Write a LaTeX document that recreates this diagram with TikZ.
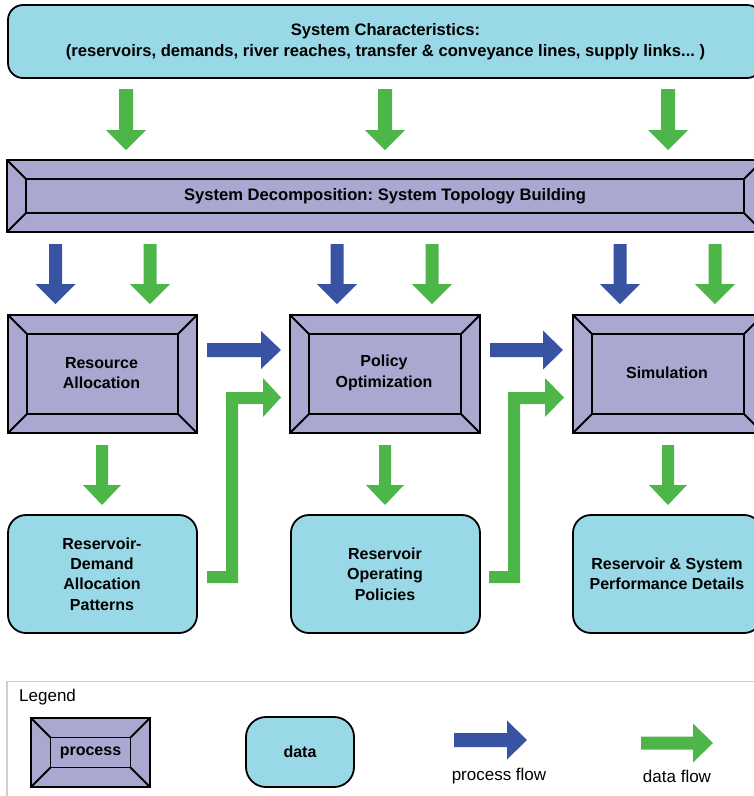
\documentclass[tikz,border=0pt]{standalone}
\usepackage{fontspec}
\setmainfont{Liberation Sans}
\frenchspacing
\definecolor{procfill}{HTML}{AAA8D0}
\definecolor{datafill}{HTML}{99D8E6}
\definecolor{flowgreen}{HTML}{4CB748}
\definecolor{flowblue}{HTML}{3852A4}
\definecolor{legendgray}{HTML}{CFCFCF}
\tikzset{
  outline/.style={draw=black, line width=1.8pt},
  procshape/.style={outline, fill=procfill},
  datashape/.style={outline, fill=datafill, rounded corners=18pt},
  txt/.style={font=\fontsize{16}{20.3}\selectfont\bfseries, align=center, inner sep=0pt},
  bigtxt/.style={txt, font=\fontsize{16.6}{21}\selectfont\bfseries},
  legtxt/.style={font=\fontsize{17}{20}\selectfont, inner sep=0pt},
}
% down block arrow: colour, centre x, top y, tip y, shaft half width, head half width
\newcommand\dnarrow[6]{\fill[#1] ({#2-#5},{#3}) -- ({#2+#5},{#3}) -- ({#2+#5},{#4-20}) -- ({#2+#6},{#4-20}) -- (#2,#4) -- ({#2-#6},{#4-20}) -- ({#2-#5},{#4-20}) -- cycle;}
% right block arrow: colour, centre y, start x, tip x, shaft half width, head half width
\newcommand\rtarrow[6]{\fill[#1] ({#3},{#2-#5}) -- ({#4-20},{#2-#5}) -- ({#4-20},{#2-#6}) -- (#4,#2) -- ({#4-20},{#2+#6}) -- ({#4-20},{#2+#5}) -- ({#3},{#2+#5}) -- cycle;}
% process frame: x1 y1 x2 y2 inset
\newcommand\procframe[5]{%
  \path[procshape] (#1,#2) rectangle (#3,#4);
  \draw[outline] ({#1+#5},{#2+#5}) rectangle ({#3-#5},{#4-#5});
  \draw[outline] (#1,#2) -- ({#1+#5},{#2+#5}) (#3,#2) -- ({#3-#5},{#2+#5})
                 (#1,#4) -- ({#1+#5},{#4-#5}) (#3,#4) -- ({#3-#5},{#4-#5});}
\begin{document}
\begin{tikzpicture}[x=1pt,y=-1pt]
\useasboundingbox (0,0) rectangle (754,796);
\clip (0,0) rectangle (754,796);

% top data box
\path[datashape, rounded corners=15pt] (8,5) rectangle (762,78);
\node[bigtxt] (sysch) at (385.5,42) {System Characteristics:\\(reservoirs, demands, river reaches, transfer \& conveyance lines, supply links... )};

% arrows to decomposition
\dnarrow{flowgreen}{126}{89}{150}{7}{20}
\dnarrow{flowgreen}{385}{89}{150}{7}{20}
\dnarrow{flowgreen}{668}{89}{150}{7}{20}

% decomposition bar
\procframe{7}{160}{763}{232}{19}
\node[bigtxt] (decomp) at (385,196) {System Decomposition: System Topology Building};

% arrows from decomposition
\dnarrow{flowblue}{55.5}{244}{304}{6.5}{20}
\dnarrow{flowgreen}{150}{244}{304}{6.5}{20}
\dnarrow{flowblue}{337}{244}{304}{6.5}{20}
\dnarrow{flowgreen}{432}{244}{304}{6.5}{20}
\dnarrow{flowblue}{620}{244}{304}{6.5}{20}
\dnarrow{flowgreen}{715}{244}{304}{6.5}{20}

% process boxes
\procframe{8}{315}{197}{433}{19}
\node[txt] (ra) at (101.5,373) {Resource\\Allocation};
\procframe{290}{315}{480}{433}{19}
\node[txt] (po) at (384,373) {Policy\\Optimization};
\procframe{573}{315}{763}{433}{19}
\node[txt] (sim) at (667,373) {Simulation};

% process flow arrows
\rtarrow{flowblue}{350}{207}{281}{7}{19}
\rtarrow{flowblue}{350}{490}{563}{7}{19.5}

% data flow L arrows
\fill[flowgreen] (207,571) -- (226,571) -- (226,392) -- (263,392) -- (263,378) -- (281,397.5)
  -- (263,417) -- (263,404) -- (238,404) -- (238,583) -- (207,583) -- cycle;
\fill[flowgreen] (489,571) -- (508,571) -- (508,392) -- (545,392) -- (545,378) -- (564,397.5)
  -- (545,417) -- (545,404) -- (520,404) -- (520,583) -- (489,583) -- cycle;

% arrows to data
\dnarrow{flowgreen}{102}{445}{505}{6}{19}
\dnarrow{flowgreen}{385}{445}{505}{6}{19}
\dnarrow{flowgreen}{668}{445}{505}{6}{19}

% data boxes
\path[datashape] (8,515) rectangle (197,633);
\node[txt] (rdap) at (102,574) {Reservoir-\\Demand\\Allocation\\Patterns};
\path[datashape] (291,515) rectangle (480,633);
\node[txt] (rop) at (385,574) {Reservoir\\Operating\\Policies};
\path[datashape] (573,515) rectangle (762,633);
\node[txt] (rspd) at (667,574) {Reservoir \& System\\Performance Details};

% legend
\draw[legendgray, line width=1.5pt] (7,800) -- (7,681.5) -- (760,681.5);
\node[legtxt, anchor=west] (leg) at (19,697) {Legend};
\procframe{31}{718}{150}{787}{19.5}
\node[txt] (lproc) at (90.5,753) {process};
\path[datashape, rounded corners=20pt] (246,717) rectangle (354,787);
\node[txt] (ldata) at (300,752) {data};
\rtarrow{flowblue}{740}{454}{527}{7}{19.5}
\node[legtxt] (lpf) at (499,776) {process flow};
\rtarrow{flowgreen}{743}{641}{713}{6.5}{19.5}
\node[legtxt] (ldf) at (677,776) {data flow};
\end{tikzpicture}
\end{document}
